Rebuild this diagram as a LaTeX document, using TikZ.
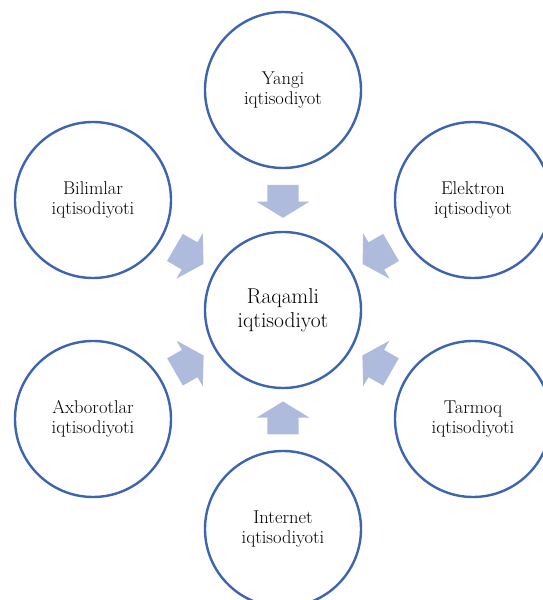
\documentclass[tikz,border=0pt]{standalone}
\usepackage{fontspec}
\usetikzlibrary{shapes.arrows}
\definecolor{ringblue}{RGB}{62,100,176}
\definecolor{arrowblue}{RGB}{174,187,221}
\begin{document}
\begin{tikzpicture}
  [x=1pt,y=1pt,
   ring/.style={circle,draw=ringblue,line width=2.4pt,minimum size=156pt,inner sep=0pt,align=center,font=\fontsize{18.5}{20.5}\selectfont}]
  \tikzstyle{pointer} = [single arrow,fill=arrowblue,draw=none,inner xsep=0pt,inner ysep=15.5pt,minimum height=33pt,single arrow head extend=10.5pt,single arrow tip angle=117,sloped,allow upside down,anchor=tail]
  \useasboundingbox (0,0) rectangle (543,600);
  \node[ring,font=\fontsize{21.5}{23.5}\selectfont] (c) at (283,290) {Raqamli\\iqtisodiyot};
  \node[ring] (n1) at (283,510) {Yangi\\iqtisodiyot};
  \node[ring] (n2) at (473,400) {Elektron\\iqtisodiyot};
  \node[ring] (n3) at (473,181) {Tarmoq\\iqtisodiyoti};
  \node[ring] (n4) at (283,71)  {Internet\\iqtisodiyoti};
  \node[ring] (n5) at (93,181)  {Axborotlar\\iqtisodiyoti};
  \node[ring] (n6) at (93,400)  {Bilimlar\\iqtisodiyoti};

\foreach \source in {n1,n2,n3,n4,n5,n6}
   \path (\source) -- node[pointer,pos=.25] (a\source) {} (c);

  \end{tikzpicture}
\end{document}
